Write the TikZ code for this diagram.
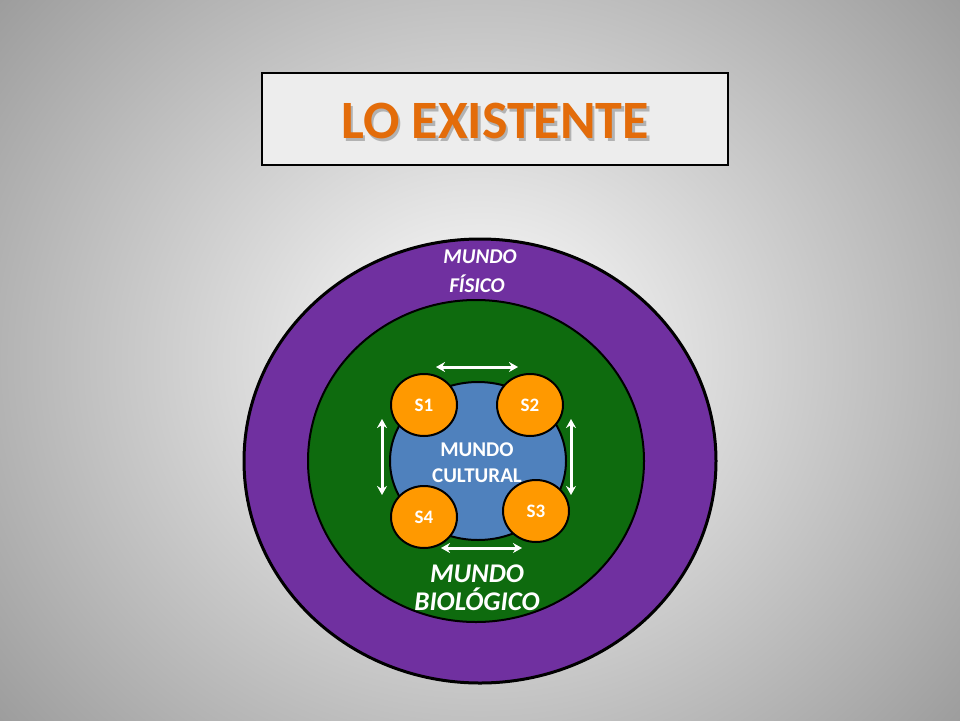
\documentclass[tikz,border=0pt]{standalone}
\usepackage{fontspec}
\setmainfont{Carlito}
\usetikzlibrary{arrows.meta,shadings,shapes.geometric}
\definecolor{purp}{HTML}{7030A0}
\definecolor{grn}{HTML}{0E6B0E}
\definecolor{blu}{HTML}{4F81BD}
\definecolor{org}{HTML}{FF9900}
\definecolor{ttl}{HTML}{E36C0A}
\begin{document}
\begin{tikzpicture}[x=1pt,y=-1pt,
  sat/.style={draw=black,line width=2pt,fill=org,ellipse,minimum width=66pt,minimum height=62pt,inner sep=0pt,font=\bfseries\fontsize{19}{19}\selectfont,text=white},
  wtxt/.style={text=white,font=\bfseries\itshape\fontsize{#1}{#1}\selectfont,inner sep=0pt},
  darr/.style={white,line width=3pt,{Stealth[length=9pt,width=10pt]}-{Stealth[length=9pt,width=10pt]}}]
\useasboundingbox (0,0) rectangle (960,720);
\shade[inner color=white,outer color=black!42] (-200,-260) rectangle (1160,980);
\node[draw=black,line width=2.5pt,fill=black!7,minimum width=466pt,minimum height=92pt] (title) at (495,119) {};
\node[text=black!30,font=\bfseries\fontsize{54}{54}\selectfont] at (497.5,123.5) {LO EXISTENTE};
\node[text=ttl,font=\bfseries\fontsize{54}{54}\selectfont] (tt) at (495,121) {LO EXISTENTE};
\draw[line width=3pt,fill=purp] (480,461) ellipse [x radius=236, y radius=222];
\draw[line width=2pt,fill=grn] (476,461) ellipse [x radius=168, y radius=161];
\draw[line width=2pt,fill=blu] (478,461) ellipse [x radius=88, y radius=79];
\node[sat] (s1) at (424,405) {S1};
\node[sat] (s2) at (530,405) {S2};
\node[sat] (s3) at (536,511) {S3};
\node[sat] (s4) at (424,517) {S4};
\coordinate (a1) at (436,367); \coordinate (a2) at (518,367);
\coordinate (b1) at (441,548); \coordinate (b2) at (522,548);
\coordinate (c1) at (382,419); \coordinate (c2) at (382,495);
\coordinate (d1) at (571,419); \coordinate (d2) at (571,495);
\draw[darr] (a1) -- (a2);
\draw[darr] (b1) -- (b2);
\draw[darr] (c1) -- (c2);
\draw[darr] (d1) -- (d2);
\node[wtxt=21] (f1) at (480,257) {MUNDO};
\node[wtxt=21] (f2) at (477,284) {FÍSICO};
\node[text=white,font=\bfseries\fontsize{21}{21}\selectfont,inner sep=0pt] (m1) at (477,450) {MUNDO};
\node[text=white,font=\bfseries\fontsize{21}{21}\selectfont,inner sep=0pt] (m2) at (477,476) {CULTURAL};
\node[wtxt=27] (b1t) at (477,574) {MUNDO};
\node[wtxt=27] (b2t) at (477,599) {BIOLÓGICO};
\end{tikzpicture}
\end{document}
